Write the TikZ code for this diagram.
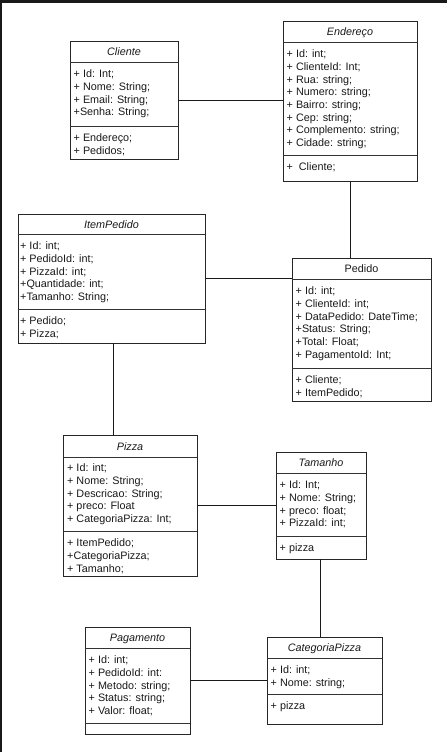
\documentclass[tikz,border=0pt]{standalone}
\usepackage{fontspec}
\setmainfont{Liberation Sans}
\begin{document}
\begin{tikzpicture}[x=1pt,y=-1pt,
  classbox/.style={draw=black!85,line width=0.9pt,inner sep=0pt,outer sep=0pt,fill=white},
  sepline/.style={draw=black!80,line width=0.9pt},
  conn/.style={draw=black!90,line width=0.9pt},
  rowtxt/.style={anchor=west,inner sep=0pt,text height=7.7pt,text depth=0pt,font=\fontsize{10.8}{13}\selectfont,text=black!90},
  ttl/.style={inner sep=0pt,text height=7.7pt,text depth=0pt,font=\fontsize{10.8}{13}\selectfont\itshape,text=black!90},
  ttlup/.style={ttl,font=\fontsize{10.8}{13}\selectfont}]
\useasboundingbox (0,0) rectangle (447,752);
\fill[white] (0,0) rectangle (447,752);
\fill[black!90] (0,0) rectangle (447,3.5);
\fill[black!90] (0,0) rectangle (2,752);
\newcommand\umlbox[9]{%
  \node[classbox,minimum width={#4pt-#2pt},minimum height={#5pt-#3pt}] (#1) at ({(#2+#4)/2},{(#3+#5)/2}) {};
  \draw[sepline] (#2,#6) -- (#4,#6);
  \draw[sepline] (#2,#7) -- (#4,#7);
  \node[#9] (#1-t) at ({(#2+#4)/2},{(#3+#6)/2+0.5}) {#8};
}
\newcommand\umlrows[4]{%
  \foreach \txt [count=\i] in {#4} {
    \node[rowtxt] (#1-\i) at ({#2+3.5},{#3+11.8+(\i-1)*12.7}) {\txt};
  }
}
% Cliente
\umlbox{cliente}{70}{41}{178}{159}{62}{126}{Cliente}{ttl}
\umlrows{cliente-a}{70}{62}{+ Id: Int;,+ Nome: String;,+ Email: String;,+Senha: String;}
\umlrows{cliente-m}{70}{126}{+ Endereço;,+ Pedidos;}
% Endereco
\umlbox{endereco}{283}{21}{417}{181}{42}{155}{Endereço}{ttl}
\umlrows{endereco-a}{283}{42}{+ Id: int;,+ ClienteId: Int;,+ Rua: string;,+ Numero: string;,+ Bairro: string;,+ Cep: string;,+ Complemento: string;,+ Cidade: string;}
\umlrows{endereco-m}{283}{155}{+\hspace{0.55em}Cliente;}
% ItemPedido
\umlbox{itempedido}{18}{214}{205}{343}{234}{309}{ItemPedido}{ttl}
\umlrows{itempedido-a}{16.5}{234}{+ Id: int;,+ PedidoId: int;,+ PizzaId: int;,+Quantidade: int;,+Tamanho: String;}
\umlrows{itempedido-m}{16.5}{309}{+ Pedido;,+ Pizza;}
% Pedido
\umlbox{pedido}{292}{258}{431}{401}{279}{368}{Pedido}{ttlup}
\umlrows{pedido-a}{292}{279}{+ Id: int;,+ ClienteId: int;,+ DataPedido: DateTime;,+Status: String;,+Total: Float;,+ PagamentoId: Int;}
\umlrows{pedido-m}{292}{368}{+ Cliente;,+ ItemPedido;}
% Pizza
\umlbox{pizza}{63}{435}{197}{576}{457}{531}{Pizza}{ttl}
\umlrows{pizza-a}{63.5}{456}{+ Id: int;,+ Nome: String;,+ Descricao: String;,+ preco: Float,+ CategoriaPizza: Int;}
\umlrows{pizza-m}{63.5}{531}{+ ItemPedido;,+CategoriaPizza;,+ Tamanho;}
% Tamanho
\umlbox{tamanho}{276}{452}{366}{559}{473}{536}{Tamanho}{ttl}
\umlrows{tamanho-a}{276}{473}{+ Id: Int;,+ Nome: String;,+ preco: float;,+ PizzaId: int;}
\umlrows{tamanho-m}{276}{536}{+ pizza}
% Pagamento
\umlbox{pagamento}{85}{627}{190}{734}{648}{723}{Pagamento}{ttl}
\umlrows{pagamento-a}{85}{648}{+ Id: int;,+ PedidoId: int:,+ Metodo: string;,+ Status: string;,+ Valor: float;}
% CategoriaPizza
\umlbox{categoria}{267}{637}{382}{724}{658}{694}{CategoriaPizza}{ttl}
\umlrows{categoria-a}{267}{658}{+ Id: int;,+ Nome: string;}
\umlrows{categoria-m}{267}{694}{+ pizza}
% connectors
\draw[conn] (cliente.east) -- (cliente.east -| endereco.west);
\draw[conn] (endereco.south) -- (endereco.south |- pedido.north);
\draw[conn] (itempedido.east) -- (itempedido.east -| pedido.west);
\draw[conn] ([xshift=1.5pt]itempedido.south) -- ([xshift=1.5pt]itempedido.south |- pizza.north);
\draw[conn] (pizza.east) -- (tamanho.west);
\draw[conn] ([xshift=-1pt]tamanho.south) -- ([xshift=-1pt]tamanho.south |- categoria.north);
\draw[conn] (pagamento.east) -- (categoria.west);
\end{tikzpicture}
\end{document}
